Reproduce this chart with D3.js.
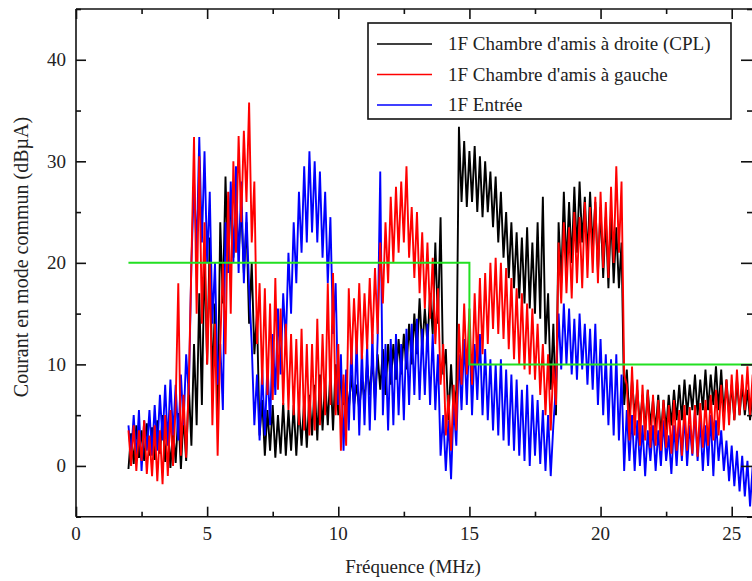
<!DOCTYPE html>
<html>
<head>
<meta charset="utf-8">
<script src="https://cdn.jsdelivr.net/npm/d3@7"></script>
<style>
  html, body { margin: 0; padding: 0; background: #fff; }
  svg { display: block; }
  text { font-family: "Liberation Serif", "Times New Roman", serif; fill: #222; }
</style>
</head>
<body>
<svg id="chart" width="752" height="581"></svg>
<script>
// ---------------- DATA ----------------
// frequency grid (MHz): 2.0 .. 25.8 step 0.1
const freqStart = 2.0, freqStep = 0.1;

const seriesNames = [
  "1F Chambre d'amis à droite (CPL)",
  "1F Chambre d'amis à gauche",
  "1F Entrée"
];

// Courant en mode commun (dBµA)
const cplDroite = [
  -0.3, 3.2, 0.2, 4.0, 0.8, 3.5, 0.5, 4.2, 1.0, 3.8,
  0.6, 4.5, 1.2, 5.0, 0.4, 4.2, -0.2, 3.6, 0.3, 5.2,
  -0.3, 5.0, 0.5, 8.0, 2.0, 12.0, 4.0, 17.0, 6.0, 21.0,
  10.0, 22.5, 8.0, 16.0, 5.0, 24.0, 16.0, 28.5, 19.0, 27.0,
  20.5, 26.0, 21.0, 25.5, 19.0, 24.0, 14.0, 20.0, 11.0, 15.0,
  3.0, 6.5, 1.0, 5.5, 1.5, 6.0, 0.8, 5.0, 1.2, 6.2,
  1.0, 5.5, 1.5, 6.0, 1.0, 5.8, 2.0, 6.5, 1.8, 7.0,
  3.0, 8.0, 2.5, 9.0, 3.5, 8.5, 4.0, 9.5, 3.5, 10.0,
  5.0, 9.0, 6.0, 8.5, 5.5, 9.0, 6.0, 8.0, 5.5, 8.5,
  6.5, 10.0, 7.0, 10.5, 6.5, 11.0, 7.5, 11.5, 7.0, 12.0,
  8.0, 12.0, 8.5, 12.5, 9.0, 13.0, 9.5, 14.0, 10.0, 15.0,
  11.0, 16.5, 11.5, 15.5, 12.0, 17.0, 13.0, 22.0, 14.0, 24.5,
  9.0, 11.5, 4.5, 10.0, 5.0, 7.5, 33.4, 26.0, 32.0, 25.5,
  31.0, 26.0, 31.5, 25.0, 30.5, 24.5, 30.0, 25.0, 29.0, 23.5,
  28.5, 22.0, 27.0, 20.5, 25.0, 18.5, 24.0, 17.5, 23.0, 16.5,
  22.5, 16.0, 23.5, 15.5, 22.0, 15.0, 24.0, 14.5, 26.5, 12.0,
  17.0, 7.5, 14.0, 5.0, 24.0, 18.0, 27.0, 19.5, 26.0, 20.0,
  27.5, 21.0, 28.0, 22.0, 26.5, 20.5, 27.0, 21.5, 26.0, 19.0,
  25.5, 18.5, 24.5, 17.5, 25.0, 18.0, 23.5, 17.5, 22.0, 6.0,
  9.5, 4.5, 8.5, 5.0, 7.5, 4.0, 7.0, 3.5, 7.5, 4.0,
  6.5, 3.5, 7.0, 3.0, 6.5, 3.5, 7.0, 4.0, 7.5, 4.5,
  8.0, 4.5, 8.5, 5.0, 8.0, 5.5, 9.0, 5.0, 8.5, 5.5,
  9.5, 5.5, 9.0, 6.0, 9.8, 5.5, 9.5, 5.0, 8.5, 5.0,
  8.0, 4.5, 8.5, 5.0, 8.0, 5.0, 7.5, 4.5, 7.5
];

const gauche = [
  3.5, 0.0, 4.0, -0.5, 3.5, 0.5, 4.5, -0.8, 3.0, -1.0,
  4.0, -1.5, 3.5, -1.8, 5.0, -1.0, 5.5, 0.0, 6.0, 18.0,
  1.0, 7.0, 0.8, 8.0, 20.0, 32.4, 15.0, 30.5, 14.0, 24.0,
  10.0, 20.0, 4.0, 14.0, 1.0, 12.0, 20.0, 11.0, 27.0, 15.0,
  30.0, 21.0, 32.5, 24.0, 33.0, 26.0, 35.8, 22.0, 28.0, 12.0,
  18.0, 8.0, 17.5, 7.0, 16.0, 6.5, 18.5, 7.5, 15.5, 6.0,
  14.0, 5.5, 13.0, 5.0, 12.5, 4.0, 13.5, 3.5, 12.0, 3.0,
  12.0, 3.5, 14.5, 4.0, 13.0, 5.0, 18.0, 6.0, 19.0, 5.0,
  12.0, 1.5, 9.0, 2.0, 17.5, 10.0, 16.5, 11.0, 18.0, 10.5,
  17.0, 11.5, 18.5, 12.0, 19.5, 13.0, 22.0, 16.0, 24.0, 18.0,
  26.5, 20.0, 27.5, 21.0, 28.0, 22.0, 29.5, 20.5, 25.5, 18.5,
  25.0, 17.0, 23.0, 15.5, 22.0, 14.5, 20.5, 12.0, 17.5, 8.0,
  12.0, 3.0, 7.0, 1.5, 8.0, 3.5, 14.0, 8.0, 16.0, 9.0,
  15.5, 8.0, 17.0, 10.0, 18.5, 11.0, 19.0, 12.0, 20.0, 13.5,
  20.5, 13.0, 20.0, 12.5, 19.5, 11.5, 18.5, 10.5, 17.5, 10.0,
  17.0, 9.5, 16.0, 9.0, 15.5, 8.5, 14.0, 7.0, 12.0, 5.0,
  11.0, 3.5, 10.0, 6.0, 22.0, 16.0, 24.0, 17.0, 23.5, 16.5,
  25.0, 18.0, 24.5, 17.5, 26.0, 18.5, 25.5, 19.0, 26.5, 18.0,
  27.0, 19.5, 26.0, 18.5, 27.5, 20.0, 29.5, 21.0, 28.0, 9.0,
  8.0, 2.5, 9.8, 3.0, 8.5, 2.0, 8.0, 2.5, 7.5, 1.8,
  7.0, 2.0, 6.5, 1.5, 6.5, 1.8, 6.0, 1.2, 6.5, 1.5,
  5.5, 1.0, 6.0, 1.5, 5.8, 1.2, 6.0, 0.9, 6.2, 1.8,
  6.5, 2.0, 7.0, 2.5, 7.5, 3.0, 8.0, 3.5, 8.5, 4.0,
  9.0, 4.5, 9.5, 5.0, 9.0, 5.5, 9.8, 5.0, 9.0
];

const entree = [
  4.0, 1.0, 5.0, 0.5, 5.5, -0.5, 4.5, 1.5, 5.5, 1.0,
  6.0, 1.5, 7.0, 2.5, 8.0, 2.0, 8.5, 3.0, 8.0, 2.5,
  9.0, 4.0, 11.0, 7.0, 20.0, 28.0, 21.0, 32.4, 22.0, 31.0,
  20.0, 27.0, 14.0, 20.0, 8.0, 12.0, 5.5, 24.0, 19.0, 28.0,
  20.0, 29.5, 19.0, 28.0, 18.0, 25.0, 17.5, 12.0, 4.0, 9.0,
  2.5, 9.5, 3.0, 10.0, 4.0, 13.0, 7.0, 15.5, 9.0, 17.0,
  12.0, 21.0, 15.0, 24.0, 18.0, 27.0, 21.0, 29.5, 22.0, 31.0,
  23.0, 30.0, 22.0, 29.0, 20.5, 27.0, 18.0, 24.5, 13.0, 18.0,
  6.0, 11.0, 1.5, 9.5, 3.5, 12.0, 4.5, 12.5, 3.0, 11.5,
  4.0, 12.0, 3.5, 13.0, 4.5, 12.5, 29.0, 5.0, 12.0, 3.5,
  12.5, 4.0, 13.0, 5.0, 12.0, 4.5, 13.5, 6.0, 14.0, 7.0,
  14.5, 6.5, 13.5, 7.0, 14.0, 6.0, 13.0, 5.5, 11.0, 1.0,
  5.0, -0.5, 4.5, -1.3, 6.0, 2.0, 11.0, 5.5, 12.5, 6.0,
  13.5, 5.0, 12.0, 6.5, 13.0, 5.0, 11.5, 4.5, 10.5, 3.5,
  10.0, 3.0, 10.5, 2.5, 9.5, 2.0, 9.0, 1.5, 8.5, 1.0,
  7.5, 0.5, 8.0, 0.0, 7.0, 1.0, 6.5, 0.2, 5.5, -0.5,
  5.0, -1.0, 4.0, 8.0, 15.0, 9.5, 16.0, 10.0, 15.5, 9.0,
  14.5, 8.5, 15.0, 9.5, 14.0, 8.0, 13.5, 7.5, 14.0, 6.0,
  12.5, 5.0, 11.0, 4.0, 10.5, 3.0, 11.0, 2.5, 9.0, -0.5,
  5.5, 0.5, 5.0, -0.5, 4.5, 0.0, 4.0, -1.0, 3.5, 0.5,
  4.0, -0.5, 3.5, 0.0, 4.5, 0.5, 3.0, -0.8, 4.0, 0.0,
  4.5, 0.5, 5.0, 0.0, 4.0, 1.0, 5.5, 0.5, 4.5, -0.5,
  4.0, 0.0, 5.0, -1.0, 4.5, 0.5, 3.5, -0.5, 2.5, -1.5,
  2.0, -2.0, 1.5, -2.5, 1.0, -3.0, 0.5, -4.0, 0.0
];

// limit line (green)
const limitX = [2, 15, 15, 26];
const limitY = [20, 20, 10, 10];

const xTicksMajor = [0, 5, 10, 15, 20, 25];
const xTicksMinor = [2.5, 7.5, 12.5, 17.5, 22.5];
const yTicksMajor = [0, 10, 20, 30, 40];
const yTicksMinor = [-5, 5, 15, 25, 35, 45];

const colors = ["#000000", "#ff0000", "#0000ff"];
const limitColor = "#22e022";

// ---------------- LAYOUT ----------------
const svg = d3.select("#chart");
const pLeft = 76, pRight = 753, pTop = 9, pBottom = 516.7;

const x = d3.scaleLinear().domain([0, 25]).range([pLeft, 731.7]);
const y = d3.scaleLinear().domain([-5, 45]).range([pBottom, pTop]);

svg.append("defs").append("clipPath").attr("id", "plotclip")
  .append("rect").attr("x", pLeft).attr("y", pTop)
  .attr("width", pRight - pLeft).attr("height", pBottom - pTop);

const plot = svg.append("g").attr("clip-path", "url(#plotclip)");

const line = d3.line()
  .x((d, i) => x(freqStart + i * freqStep))
  .y(d => y(d));

// drawing order: black, blue, red
const order = [[cplDroite, 0], [entree, 2], [gauche, 1]];
order.forEach(([data, ci]) => {
  plot.append("path")
    .datum(data)
    .attr("d", line)
    .attr("fill", "none")
    .attr("stroke", colors[ci])
    .attr("stroke-width", 1.9)
    .attr("stroke-linejoin", "miter")
    .attr("stroke-miterlimit", 2);
});

// green limit
const limLine = d3.line().x(d => x(d[0])).y(d => y(d[1]));
plot.append("path")
  .datum(limitX.map((v, i) => [v, limitY[i]]))
  .attr("d", limLine)
  .attr("fill", "none")
  .attr("stroke", limitColor)
  .attr("stroke-width", 2);

// ---------------- AXES ----------------
const axesG = svg.append("g").attr("stroke", "#111").attr("stroke-width", 1.6);
axesG.append("line").attr("x1", pLeft).attr("x2", pLeft).attr("y1", pTop).attr("y2", pBottom);
axesG.append("line").attr("x1", pLeft).attr("x2", pRight + 2).attr("y1", pBottom).attr("y2", pBottom);
axesG.append("line").attr("x1", pLeft).attr("x2", pRight + 2).attr("y1", pTop).attr("y2", pTop);
axesG.append("line").attr("x1", pRight).attr("x2", pRight).attr("y1", pTop).attr("y2", pBottom);

const xAxisB = d3.axisBottom(x).tickValues(xTicksMajor).tickSize(-10).tickFormat("");
const xAxisBm = d3.axisBottom(x).tickValues(xTicksMinor).tickSize(-5).tickFormat("");
const xAxisT = d3.axisTop(x).tickValues(xTicksMajor).tickSize(-10).tickFormat("");
const xAxisTm = d3.axisTop(x).tickValues(xTicksMinor).tickSize(-5).tickFormat("");
const yAxisL = d3.axisLeft(y).tickValues(yTicksMajor).tickSize(-10).tickFormat("");
const yAxisLm = d3.axisLeft(y).tickValues(yTicksMinor).tickSize(-5).tickFormat("");
const yAxisR = d3.axisRight(y).tickValues(yTicksMajor).tickSize(-12).tickFormat("");
const yAxisRm = d3.axisRight(y).tickValues(yTicksMinor).tickSize(-6).tickFormat("");

function styleAxis(g) {
  g.select(".domain").remove();
  g.selectAll(".tick line").attr("stroke", "#111").attr("stroke-width", 1.6);
}
svg.append("g").attr("transform", `translate(0,${pBottom})`).call(xAxisB).call(styleAxis);
svg.append("g").attr("transform", `translate(0,${pBottom})`).call(xAxisBm).call(styleAxis);
svg.append("g").attr("transform", `translate(0,${pTop})`).call(xAxisT).call(styleAxis);
svg.append("g").attr("transform", `translate(0,${pTop})`).call(xAxisTm).call(styleAxis);
svg.append("g").attr("transform", `translate(${pLeft},0)`).call(yAxisL).call(styleAxis);
svg.append("g").attr("transform", `translate(${pLeft},0)`).call(yAxisLm).call(styleAxis);
svg.append("g").attr("transform", `translate(${pRight},0)`).call(yAxisR).call(styleAxis);
svg.append("g").attr("transform", `translate(${pRight},0)`).call(yAxisRm).call(styleAxis);

// tick labels
svg.append("g").selectAll("text").data(xTicksMajor).join("text")
  .attr("x", d => x(d)).attr("y", 540)
  .attr("text-anchor", "middle").attr("font-size", 19)
  .text(d => d);
svg.append("g").selectAll("text").data(yTicksMajor).join("text")
  .attr("x", 66).attr("y", d => y(d)).attr("dy", "0.34em")
  .attr("text-anchor", "end").attr("font-size", 19)
  .text(d => d);

// axis titles
svg.append("text").attr("x", 413).attr("y", 573)
  .attr("text-anchor", "middle").attr("font-size", 19)
  .text("Fréquence (MHz)");
svg.append("text").attr("transform", "translate(28,257) rotate(-90)")
  .attr("text-anchor", "middle").attr("font-size", 20)
  .text("Courant en mode commun (dBµA)");

// ---------------- LEGEND ----------------
const lg = svg.append("g");
lg.append("rect").attr("x", 368).attr("y", 23).attr("width", 363).attr("height", 96)
  .attr("fill", "#fff").attr("stroke", "#111").attr("stroke-width", 1.6);
const rowY = [44, 74.5, 105];
seriesNames.forEach((name, i) => {
  lg.append("line").attr("x1", 377).attr("x2", 432).attr("y1", rowY[i]).attr("y2", rowY[i])
    .attr("stroke", colors[i]).attr("stroke-width", 1.7);
  lg.append("text").attr("x", 448).attr("y", rowY[i]).attr("dy", "0.33em")
    .attr("font-size", 19).text(name);
});
</script>
</body>
</html>
